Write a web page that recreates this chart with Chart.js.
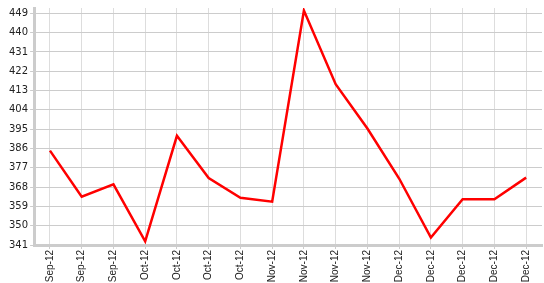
<!DOCTYPE html>
<html>
<head>
<meta charset="utf-8">
<script src="https://cdn.jsdelivr.net/npm/chart.js@4.4.0/dist/chart.umd.min.js"></script>
<style>
  html, body { margin: 0; padding: 0; background: #fff; overflow: hidden; }
  #wrap { width: 544px; height: 283px; position: relative; }
</style>
</head>
<body>
<div id="wrap"><canvas id="chart"></canvas></div>
<script>
// Data
const categories = ['Sep-12', 'Sep-12', 'Sep-12', 'Oct-12', 'Oct-12', 'Oct-12', 'Oct-12', 'Nov-12',
    'Nov-12', 'Nov-12', 'Nov-12', 'Dec-12', 'Dec-12', 'Dec-12', 'Dec-12', 'Dec-12'];
const values = [385, 363.5, 369.3, 342.7, 391.9, 372.2, 363, 361.2,
    450.3, 416, 395.3, 372, 344.5, 362.3, 362.3, 372.4];
const yTicks = [341, 350, 359, 368, 377, 386, 395, 404, 413, 422, 431, 440, 449];

new Chart(document.getElementById('chart'), {
    type: 'line',
    data: {
        labels: categories,
        datasets: [{
            data: values,
            borderColor: '#ff0000',
            borderWidth: 2.5,
            pointRadius: 0,
            tension: 0,
            fill: false
        }]
    },
    options: {
        responsive: true,
        maintainAspectRatio: false,
        animation: false,
        layout: { padding: { top: 5, right: 2, left: 7, bottom: 0 } },
        plugins: { legend: { display: false }, tooltip: { enabled: false } },
        scales: {
            x: {
                offset: true,
                afterFit: (scale) => { scale.height = 38; },
                grid: { color: '#dddddd', lineWidth: 1, tickLength: 4, tickColor: '#cccccc' },
                border: { color: '#cccccc', width: 3 },
                ticks: {
                    minRotation: 90,
                    maxRotation: 90,
                    autoSkip: false,
                    padding: 1,
                    color: '#222',
                    font: { family: 'Liberation Sans, Arial', size: 10 }
                }
            },
            y: {
                min: 341,
                max: 451.5,
                afterBuildTicks: (scale) => {
                    scale.ticks = yTicks.map(v => ({ value: v }));
                },
                grid: { color: '#cccccc', lineWidth: 1, tickLength: 4, tickColor: '#cccccc' },
                border: { color: '#cccccc', width: 3 },
                ticks: {
                    padding: 2,
                    color: '#222',
                    font: { family: 'DejaVu Sans', size: 10 }
                }
            }
        }
    }
});
</script>
</body>
</html>
